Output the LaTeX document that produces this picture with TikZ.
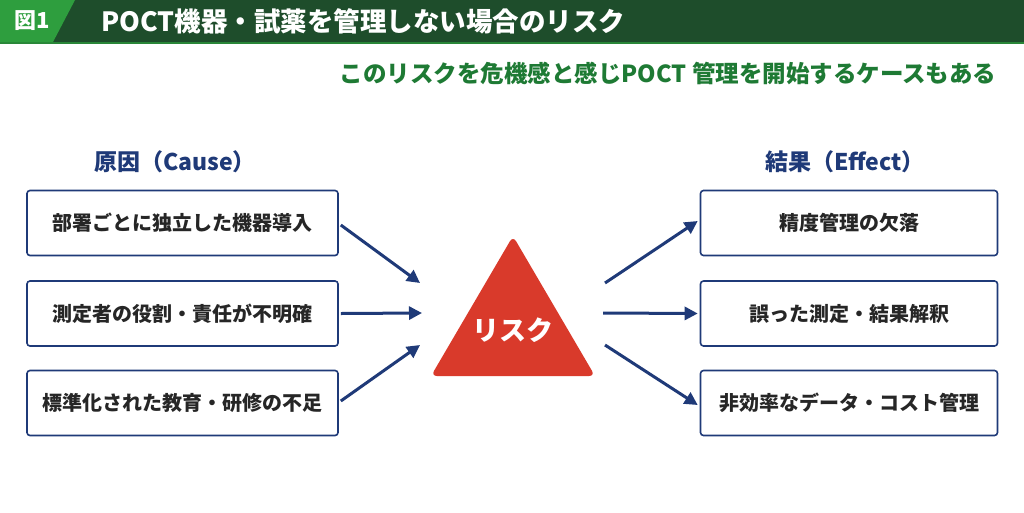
\documentclass[tikz,border=0pt]{standalone}
\usepackage{fontspec}
\setmainfont{Noto Sans CJK JP}
\usetikzlibrary{arrows.meta}
\definecolor{dg}{HTML}{1E4D2B}
\definecolor{lg}{HTML}{2E9E3E}
\definecolor{tg}{HTML}{1E7A34}
\definecolor{nv}{HTML}{1F3A78}
\definecolor{rd}{HTML}{D93A2B}
\begin{document}
\begin{tikzpicture}[x=1pt,y=-1pt,
 box/.style={draw=nv,line width=1.6pt,rounded corners=3pt,minimum width=311pt,minimum height=65pt,font=\fontsize{20}{22}\selectfont\bfseries,text=black!85},
 arr/.style={draw=nv,line width=3pt,-{Triangle[length=13pt,width=13pt]}},
 hd/.style={font=\fontsize{23}{25}\selectfont\bfseries,text=nv}]
\useasboundingbox (0,0) rectangle (1024,512);
\fill[white] (0,0) rectangle (1024,512);
\fill[dg] (0,0) rectangle (1024,42);
\fill[lg!70!dg] (0,42) rectangle (1024,44);
\fill[lg] (0,0) -- (75,0) -- (53,42) -- (0,42) -- cycle;
\node[text=white,font=\fontsize{22}{24}\selectfont\bfseries] (fig) at (32,21) {図1};
\node[text=white,font=\fontsize{26.5}{28}\selectfont\bfseries,anchor=west] (title) at (98,21) {POCT機器・試薬を管理しない場合のリスク};
\node[text=tg,font=\fontsize{23.5}{26}\selectfont\bfseries,anchor=east] (sub) at (1000,73) {このリスクを危機感と感じPOCT 管理を開始するケースもある};
\node[hd] (hc) at (175,162) {原因（Cause）};
\node[hd] (he) at (845,162) {結果（Effect）};
\node[box] (c1) at (182.5,223) {部署ごとに独立した機器導入};
\node[box] (c2) at (182.5,313.5) {測定者の役割・責任が不明確};
\node[box] (c3) at (182.5,403) {標準化された教育・研修の不足};
\node[box,minimum width=297pt] (e1) at (849,223) {精度管理の欠落};
\node[box,minimum width=297pt] (e2) at (849,313.5) {誤った測定・結果解釈};
\node[box,minimum width=297pt] (e3) at (849,403) {非効率なデータ・コスト管理};
\fill[rd,rounded corners=6pt] (513,236) -- (595,376) -- (431,376) -- cycle;
\node[text=white,font=\fontsize{27}{30}\selectfont\bfseries] (risk) at (513,330) {リスク};
\coordinate (l1) at (420,283); \coordinate (l2) at (422,313); \coordinate (l3) at (420,345);
\coordinate (r1) at (605,283); \coordinate (r2) at (603,313); \coordinate (r3) at (605,345);
\draw[arr] (c1.east) ++(2,2) -- (l1);
\draw[arr] (c2.east) ++(2,0) -- (l2);
\draw[arr] (c3.east) ++(2,-2) -- (l3);
\draw[arr] (r1) -- ([xshift=-2pt,yshift=2pt]e1.west);
\draw[arr] (r2) -- ([xshift=-2pt]e2.west);
\draw[arr] (r3) -- ([xshift=-2pt,yshift=-2pt]e3.west);
\end{tikzpicture}
\end{document}
